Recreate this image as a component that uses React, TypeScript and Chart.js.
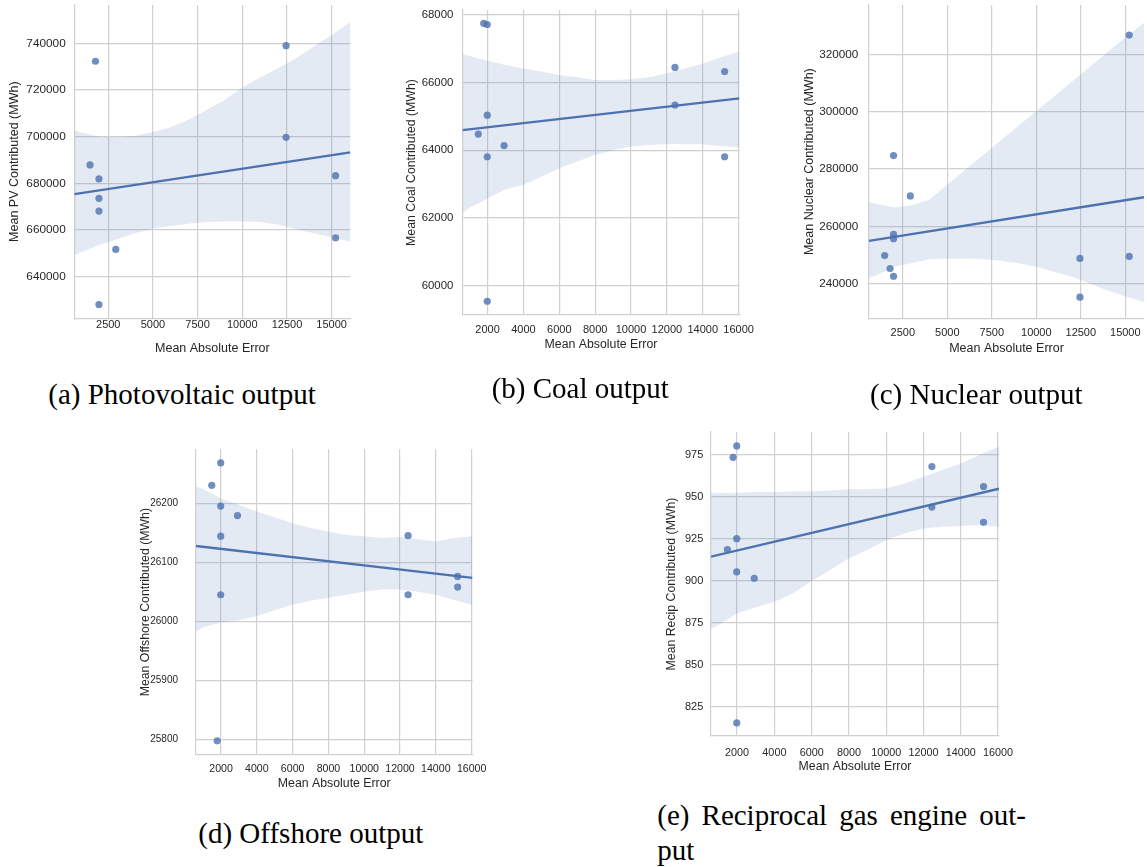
import React, { useEffect, useRef } from "react";
import { Chart, registerables } from "chart.js";

Chart.register(...registerables);

// ---------------- data ----------------
// Mean Absolute Error of each model (shared x values across all panels)
const maeX = [1480, 1785, 1980, 1980, 1980, 1980, 2920, 12450, 12450, 15220, 15220];

const pvY = [687900, 732300, 681900, 673600, 668100, 628100, 651700, 739000, 699700, 683300, 656700];
const coalY = [64480, 67750, 67720, 65040, 63810, 59540, 64140, 66450, 65340, 66330, 63810];
const nuclearY = [249800, 245300, 284700, 257200, 255700, 242600, 270600, 248800, 235300, 326700, 249500];
const offshoreY = [26230, 25798, 26268, 26195, 26144, 26045, 26179, 26145, 26045, 26076, 26058];
const recipY = [918.7, 973.6, 980.4, 925.2, 905.4, 815.5, 901.6, 968.1, 944.0, 956.2, 934.9];

// confidence band
const bandX = [600, 1000, 2000, 3000, 4000, 5000, 6000, 7000, 8000, 9000, 10000, 11000, 12000, 13000, 14000, 15000, 16050];
const pvUpper = [702600, 701800, 700000, 699700, 700400, 702000, 704000, 707400, 711400, 715700, 721100, 725400, 729300, 733600, 738600, 743600, 749100];
const pvLower = [649300, 650500, 653600, 656000, 658600, 660600, 661700, 662700, 663400, 663700, 663700, 663400, 662300, 660400, 658600, 656900, 655000];
const coalUpper = [66850, 66790, 66650, 66520, 66420, 66330, 66230, 66160, 66080, 66080, 66100, 66160, 66280, 66420, 66570, 66750, 66920];
const coalLower = [62150, 62300, 62580, 62850, 62980, 63220, 63470, 63670, 63860, 64010, 64110, 64160, 64190, 64180, 64180, 64130, 64090];
const nuclearUpper = [268400, 267900, 266600, 267400, 269400, 274500, 279700, 284800, 289900, 295100, 300200, 305300, 310500, 315600, 320800, 325900, 331000];
const nuclearLower = [242100, 242900, 245900, 247100, 248500, 248800, 248800, 248500, 248000, 247100, 245900, 244200, 242400, 240100, 237600, 235500, 233700];
const offshoreUpper = [26228, 26224, 26208, 26197, 26186, 26176, 26166, 26158, 26152, 26146, 26144, 26141, 26143, 26139, 26135, 26141, 26144];
const offshoreLower = [25983, 25990, 25998, 26002, 26009, 26019, 26028, 26035, 26040, 26045, 26050, 26054, 26054, 26050, 26045, 26036, 26028];
const recipUpper = [952.6, 952.2, 952.6, 953.0, 953.0, 953.2, 953.4, 953.8, 954.6, 954.6, 955.2, 958.1, 962.1, 966.1, 970.0, 975.0, 980.0];
const recipLower = [871.4, 873.8, 880.8, 884.3, 887.7, 892.7, 900.0, 906.5, 913.5, 918.5, 924.4, 928.4, 931.3, 932.3, 932.7, 933.3, 932.3];

// axis ranges and ticks
const xRange = [600, 16050];
const xTicksQuarter = [2500, 5000, 7500, 10000, 12500, 15000];
const xTicksEven = [2000, 4000, 6000, 8000, 10000, 12000, 14000, 16000];
const pvRange = [622180, 756410];
const pvTicks = [640000, 660000, 680000, 700000, 720000, 740000];
const coalRange = [59133, 68148];
const coalTicks = [60000, 62000, 64000, 66000, 68000];
const nuclearRange = [227930, 337200];
const nuclearTicks = [240000, 260000, 280000, 300000, 320000];
const offshoreRange = [25774, 26291];
const offshoreTicks = [25800, 25900, 26000, 26100, 26200];
const recipRange = [807.7, 988.7];
const recipTicks = [825, 850, 875, 900, 925, 950, 975];

// ---------------- style ----------------
const LINE = "#4C72B0";
const POINT = "rgba(76,114,176,0.8)";
const BAND = "rgba(76,114,176,0.15)";
const GRID = "#d0d0d0";
const TEXT = "#262626";
const SANS = '"Liberation Sans", Arial, sans-serif';
const SERIF = '"Liberation Serif", "Times New Roman", serif';

const PT = 24;
const PR = 40;

type Spec = {
  y: number[]; upper: number[]; lower: number[]; yRange: number[]; yTicks: number[]; xTicks: number[];
  yTitle: string; left: number; right: number; top: number; bottom: number;
  yTitleX: number; xTitleY: number; titleSize: number; xTickPad: number; yTickPad: number;
  xTickSize: number; yTickSize: number;
};

const panels: Spec[] = [
  { y: pvY, upper: pvUpper, lower: pvLower, yRange: pvRange, yTicks: pvTicks, xTicks: xTicksQuarter,
    yTitle: "Mean PV Contributed (MWh)", left: 74.3, right: 350.4, top: 5, bottom: 318.3,
    yTitleX: 14, xTitleY: 348.3, titleSize: 12.5, xTickPad: 0, yTickPad: 8.6, xTickSize: 11, yTickSize: 11.8 },
  { y: coalY, upper: coalUpper, lower: coalLower, yRange: coalRange, yTicks: coalTicks, xTicks: xTicksEven,
    yTitle: "Mean Coal Contributed (MWh)", left: 462.5, right: 739.5, top: 10, bottom: 315,
    yTitleX: 411.7, xTitleY: 345, titleSize: 12.3, xTickPad: 8.4, yTickPad: 9.2, xTickSize: 11, yTickSize: 11.4 },
  { y: nuclearY, upper: nuclearUpper, lower: nuclearLower, yRange: nuclearRange, yTicks: nuclearTicks, xTicks: xTicksQuarter,
    yTitle: "Mean Nuclear Contributed (MWh)", left: 869, right: 1144, top: 5, bottom: 318.3,
    yTitleX: 809, xTitleY: 348.3, titleSize: 12.5, xTickPad: 7.8, yTickPad: 10.7, xTickSize: 11, yTickSize: 11.7 },
  { y: offshoreY, upper: offshoreUpper, lower: offshoreLower, yRange: offshoreRange, yTicks: offshoreTicks, xTicks: xTicksEven,
    yTitle: "Mean Offshore Contributed (MWh)", left: 196, right: 472.5, top: 449.3, bottom: 755,
    yTitleX: 145, xTitleY: 784, titleSize: 12.3, xTickPad: 7.4, yTickPad: 18, xTickSize: 10.6, yTickSize: 10 },
  { y: recipY, upper: recipUpper, lower: recipLower, yRange: recipRange, yTicks: recipTicks, xTicks: xTicksEven,
    yTitle: "Mean Recip Contributed (MWh)", left: 711, right: 999, top: 432, bottom: 736,
    yTitleX: 671.7, xTitleY: 766.7, titleSize: 12.3, xTickPad: 10.1, yTickPad: 7.7, xTickSize: 10.8, yTickSize: 11 },
];

function linfit(xs: number[], ys: number[]) {
  const n = xs.length;
  const mx = xs.reduce((a, b) => a + b, 0) / n;
  const my = ys.reduce((a, b) => a + b, 0) / n;
  let sxy = 0, sxx = 0;
  for (let i = 0; i < n; i++) {
    sxy += (xs[i] - mx) * (ys[i] - my);
    sxx += (xs[i] - mx) * (xs[i] - mx);
  }
  const m = sxy / sxx;
  return { m, b: my - m * mx };
}

function geom(p: Spec) {
  const cl = Math.round(p.yTitleX - 0.6 * p.titleSize);
  const ct = Math.round(p.top - PT);
  const padTop = p.top - ct;
  const W = Math.ceil(p.right - cl + PR);
  const H = Math.round(p.xTitleY + 0.6 * p.titleSize - ct);
  const YW = p.left - cl;
  const XH = H - padTop - (p.bottom - p.top);
  const padRight = W - (p.right - cl);
  return { cl, ct, padTop, W, H, YW, XH, padRight };
}

function buildConfig(p: Spec): any {
  const g = geom(p);
  const fit = linfit(maeX, p.y);
  const lineData = xRange.map((x) => ({ x, y: fit.b + fit.m * x }));
  const pts = maeX.map((x, i) => ({ x, y: p.y[i] }));
  const up = bandX.map((x, i) => ({ x, y: p.upper[i] }));
  const lo = bandX.map((x, i) => ({ x, y: p.lower[i] }));
  const titleFont = { family: SANS, size: p.titleSize, lineHeight: 1.2 };
  return {
    type: "line",
    data: {
      datasets: [
        { data: lineData, borderColor: LINE, borderWidth: 2.3, pointRadius: 0, pointHoverRadius: 0, fill: false, tension: 0 },
        { data: pts, showLine: false, pointRadius: 3.6, pointHoverRadius: 3.6, pointBackgroundColor: POINT,
          pointBorderColor: "rgba(0,0,0,0)", pointBorderWidth: 0, fill: false },
        { data: lo, borderColor: "rgba(0,0,0,0)", borderWidth: 0, pointRadius: 0, pointHoverRadius: 0,
          fill: 3, backgroundColor: BAND, tension: 0 },
        { data: up, borderColor: "rgba(0,0,0,0)", borderWidth: 0, pointRadius: 0, pointHoverRadius: 0,
          fill: false, tension: 0 },
      ],
    },
    options: {
      responsive: false,
      animation: false,
      devicePixelRatio: 1,
      events: [],
      layout: { padding: { top: g.padTop, right: g.padRight, left: 0, bottom: 0 } },
      plugins: { legend: { display: false }, tooltip: { enabled: false } },
      scales: {
        x: {
          type: "linear",
          min: xRange[0],
          max: xRange[1],
          afterBuildTicks: (s: any) => { s.ticks = p.xTicks.map((v) => ({ value: v })); },
          afterFit: (s: any) => { s.height = g.XH; },
          grid: { color: GRID, lineWidth: 1.2, drawTicks: false },
          border: { display: true, color: GRID, width: 1.2 },
          ticks: { padding: p.xTickPad, autoSkip: false, maxRotation: 0, color: TEXT,
            font: { family: SANS, size: p.xTickSize, lineHeight: 1.2 }, callback: (v: any) => String(v) },
          title: { display: true, text: "Mean Absolute Error", color: TEXT, font: titleFont, padding: 0 },
        },
        y: {
          type: "linear",
          min: p.yRange[0],
          max: p.yRange[1],
          afterBuildTicks: (s: any) => { s.ticks = p.yTicks.map((v) => ({ value: v })); },
          afterFit: (s: any) => { s.width = g.YW; },
          grid: { color: GRID, lineWidth: 1.2, drawTicks: false },
          border: { display: true, color: GRID, width: 1.2 },
          ticks: { padding: p.yTickPad, autoSkip: false, color: TEXT,
            font: { family: SANS, size: p.yTickSize, lineHeight: 1.2 }, callback: (v: any) => String(v) },
          title: { display: true, text: p.yTitle, color: TEXT, font: titleFont, padding: 0 },
        },
      },
    },
  };
}

function Panel({ spec }: { spec: Spec }) {
  const ref = useRef<HTMLCanvasElement>(null);
  const g = geom(spec);
  useEffect(() => {
    const chart = new Chart(ref.current as HTMLCanvasElement, buildConfig(spec));
    return () => chart.destroy();
  }, [spec]);
  return (
    <canvas
      ref={ref}
      width={g.W}
      height={g.H}
      style={{ position: "absolute", left: g.cl, top: g.ct, width: g.W, height: g.H, display: "block" }}
    />
  );
}

const captionBase: React.CSSProperties = {
  position: "absolute",
  fontFamily: SERIF,
  fontSize: 29,
  lineHeight: "29px",
  color: "#000",
  whiteSpace: "nowrap",
};

const captions = [
  { text: "(a) Photovoltaic output", left: 48.3, top: 379.7, ws: 0 },
  { text: "(b) Coal output", left: 491.7, top: 374.0, ws: 0 },
  { text: "(c) Nuclear output", left: 870, top: 380.0, ws: 0 },
  { text: "(d) Offshore output", left: 198.3, top: 819.0, ws: 0 },
  { text: "(e) Reciprocal gas engine out-", left: 657.3, top: 800.7, ws: 4.8 },
  { text: "put", left: 657.3, top: 836.4, ws: 0 },
];

export default function App() {
  return (
    <div
      style={{
        position: "fixed",
        left: 0,
        top: 0,
        width: 1147,
        height: 867,
        overflow: "hidden",
        background: "#ffffff",
      }}
    >
      {panels.map((p, i) => (
        <Panel key={i} spec={p} />
      ))}
      {captions.map((c, i) => (
        <div key={"c" + i} style={{ ...captionBase, left: c.left, top: c.top, wordSpacing: c.ws }}>
          {c.text}
        </div>
      ))}
    </div>
  );
}
